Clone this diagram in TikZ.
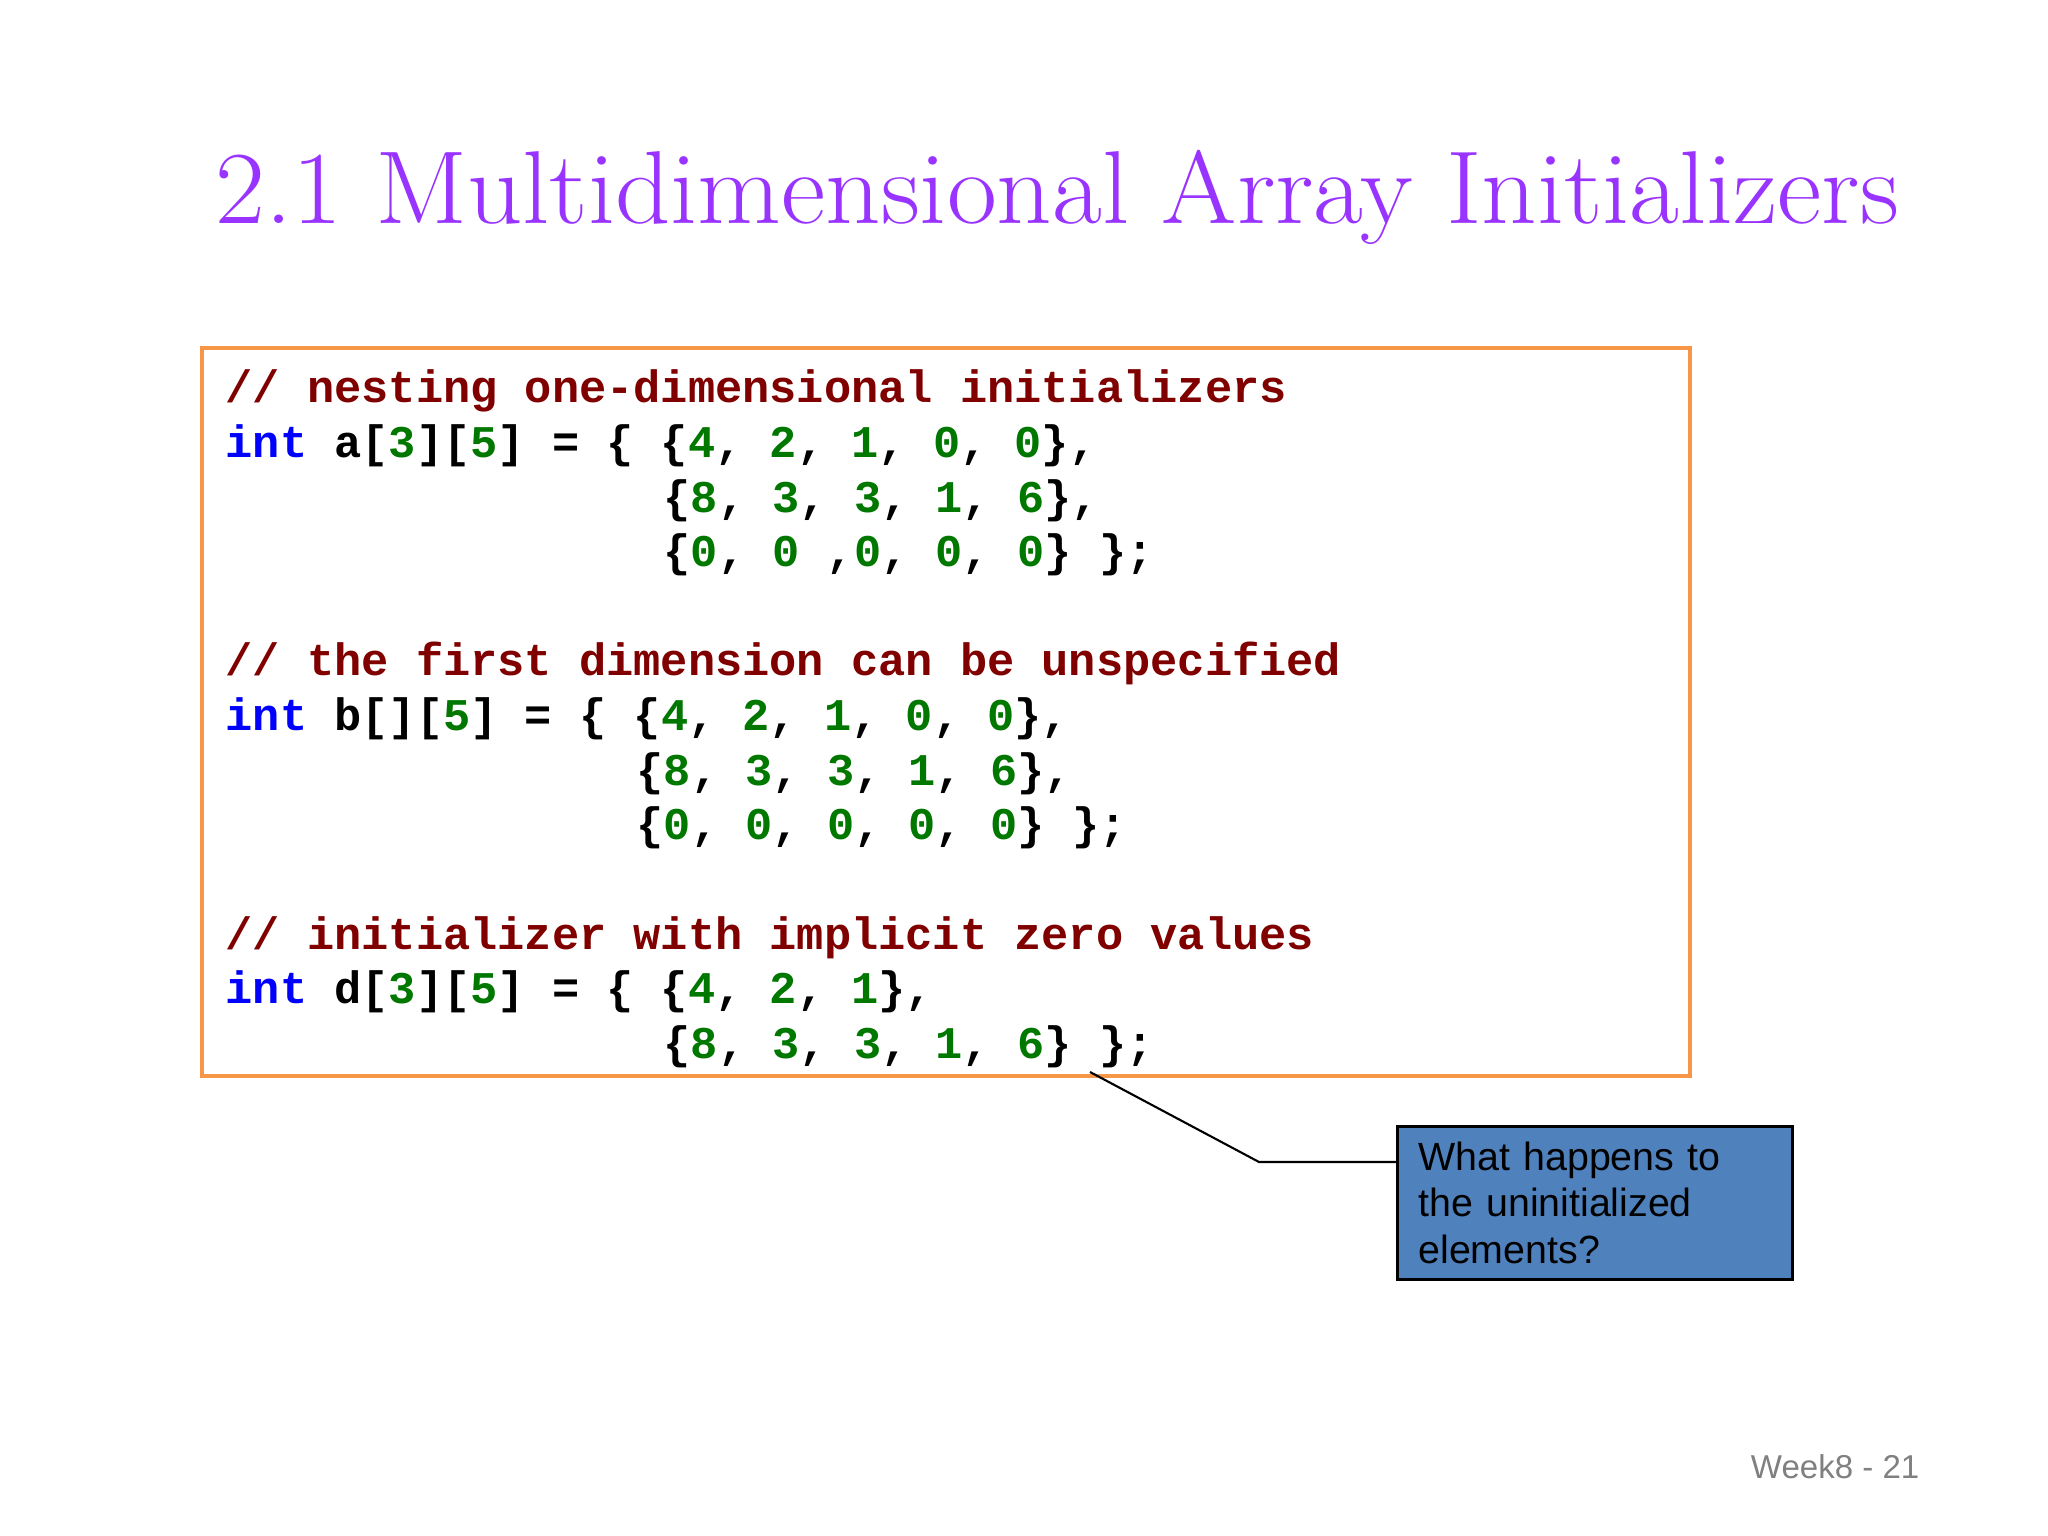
\documentclass[tikz,border=0pt]{standalone}
\usepackage{fontspec}
\setmonofont{Liberation Mono}
\newfontfamily\arialfont{Liberation Sans}
\definecolor{titlepurple}{RGB}{153,51,255}
\definecolor{boxorange}{RGB}{247,150,70}
\definecolor{cmtred}{RGB}{128,0,0}
\definecolor{kwblue}{RGB}{0,0,255}
\definecolor{numgreen}{RGB}{0,120,0}
\definecolor{notefill}{RGB}{79,129,189}
\definecolor{footgray}{RGB}{128,128,128}
\newcommand{\cmt}[1]{\textcolor{cmtred}{#1}}
\newcommand{\kw}[1]{\textcolor{kwblue}{#1}}
\newcommand{\nm}[1]{\textcolor{numgreen}{#1}}
\frenchspacing
\begin{document}
\begin{tikzpicture}[
	codeline/.style={anchor=base west, inner sep=0pt, font=\ttfamily\bfseries\fontsize{12.9}{15}\selectfont},
	callout/.style={draw=black, line width=0.8pt, fill=notefill, anchor=north west, inner xsep=0.21cm,
		minimum width=3.95cm, minimum height=1.53cm, text width=3.53cm, align=left,
		font=\arialfont\fontsize{11.2}{13.3}\selectfont}
	]
	\useasboundingbox[fill=white] (0,0) rectangle (20.48,-15.36);
	
	%title
	\node[anchor=base west, inner sep=0pt, text=titlepurple, font=\fontsize{29.5}{32}\selectfont] (title) at (2.15,-2.24){\scalebox{1.046}[1]{2.1 Multidimensional Array Initializers}};
	
	%code box
	\draw[boxorange, line width=1.4pt] (2.02,-3.48) rectangle (16.90,-10.76);
	
	\node[codeline] (l1) at (2.25,-4.03){\cmt{// nesting one-dimensional initializers}};
	\node[codeline] (l2) at (2.25,-4.576){\kw{int} a[\nm{3}][\nm{5}] = \{ \{\nm{4}, \nm{2}, \nm{1}, \nm{0}, \nm{0}\},};
	\node[codeline] (l3) at (6.63,-5.122){\{\nm{8}, \nm{3}, \nm{3}, \nm{1}, \nm{6}\},};
	\node[codeline] (l4) at (6.63,-5.668){\{\nm{0}, \nm{0} ,\nm{0}, \nm{0}, \nm{0}\} \};};
	
	\node[codeline] (l5) at (2.25,-6.76){\cmt{// the first dimension can be unspecified}};
	\node[codeline] (l6) at (2.25,-7.306){\kw{int} b[][\nm{5}] = \{ \{\nm{4}, \nm{2}, \nm{1}, \nm{0}, \nm{0}\},};
	\node[codeline] (l7) at (6.36,-7.852){\{\nm{8}, \nm{3}, \nm{3}, \nm{1}, \nm{6}\},};
	\node[codeline] (l8) at (6.36,-8.398){\{\nm{0}, \nm{0}, \nm{0}, \nm{0}, \nm{0}\} \};};
	
	\node[codeline] (l9) at (2.25,-9.49){\cmt{// initializer with implicit zero values}};
	\node[codeline] (l10) at (2.25,-10.036){\kw{int} d[\nm{3}][\nm{5}] = \{ \{\nm{4}, \nm{2}, \nm{1}\},};
	\node[codeline] (l11) at (6.63,-10.582){\{\nm{8}, \nm{3}, \nm{3}, \nm{1}, \nm{6}\} \};};
	
	%callout
	\node[callout] (question) at (13.96,-11.25){What happens to\\the uninitialized\\elements?};
	\coordinate (tip) at (10.90,-10.72);
	\coordinate (elbow) at (12.59,-11.62);
	\draw[line width=0.6pt] (tip) -- (elbow) -- (elbow -| question.west);
	
	%footer
	\node[anchor=base east, inner sep=0pt, text=footgray, font=\arialfont\fontsize{9.4}{11}\selectfont] (footer) at (19.20,-14.78){Week8 - 21};
\end{tikzpicture}
\end{document}
